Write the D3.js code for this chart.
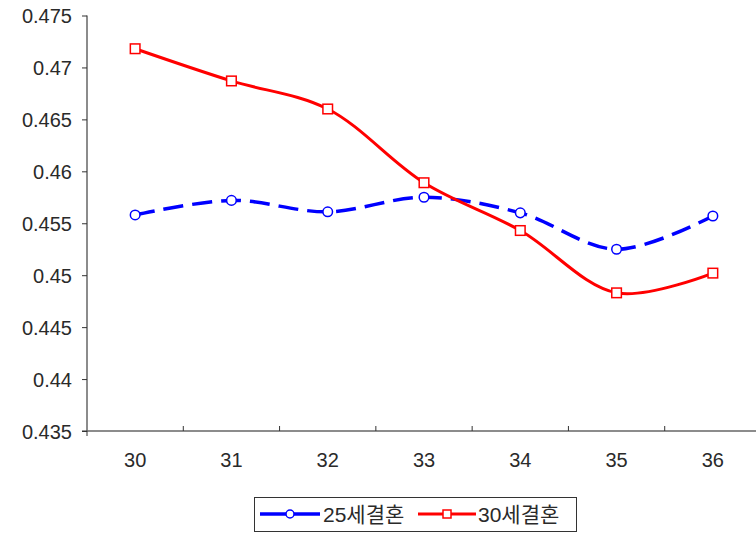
<!DOCTYPE html>
<html><head><meta charset="utf-8">
<script src="https://cdn.jsdelivr.net/npm/d3@7"></script>
<style>body{margin:0;background:#fff}svg{display:block}</style>
</head><body>
<script>
const categories = ["30","31","32","33","34","35","36"];
const series25 = [0.4558, 0.4572, 0.4561, 0.4575, 0.4560, 0.4525, 0.4557];
const series30 = [0.4718, 0.4687, 0.4660, 0.4589, 0.4543, 0.4483, 0.4502];
const yTicks = [0.435, 0.44, 0.445, 0.45, 0.455, 0.46, 0.465, 0.47, 0.475];
const seriesNames = ["25세결혼", "30세결혼"];

const W = 756, H = 533;
const font = "'Liberation Sans', Arial, 'Noto Sans CJK KR', sans-serif";
const svg = d3.select("body").append("svg").attr("width", W).attr("height", H);

const x = d3.scaleBand().domain(categories).range([87, 761]);
const y = d3.scaleLinear().domain([0.435, 0.475]).range([431, 15.5]);

// y axis
const ya = svg.append("g").attr("transform", "translate(87,0)")
  .call(d3.axisLeft(y).tickValues(yTicks).tickSize(5).tickPadding(10).tickFormat(d => d3.format("")(+d.toFixed(3))));
ya.select(".domain").attr("stroke", "#666").attr("stroke-width", 1.5).attr("d", "M0,15.5V431");
ya.selectAll(".tick line").attr("stroke", "#333");
ya.selectAll("text").attr("font-family", font).attr("font-size", 20).attr("fill", "#2a2a2a").attr("dy", "0.36em");

// x axis
const xa = svg.append("g").attr("transform", "translate(0,431)")
  .call(d3.axisBottom(x).tickSize(0).tickPadding(22));
xa.select(".domain").attr("stroke", "#666").attr("stroke-width", 1.5).attr("d", "M87,0H761");
xa.selectAll("text").attr("font-family", font).attr("font-size", 20).attr("fill", "#2a2a2a");
svg.append("g").selectAll("line").data(categories.slice(1)).join("line")
  .attr("x1", d => x(d)).attr("x2", d => x(d)).attr("y1", 431).attr("y2", 426)
  .attr("stroke", "#333");
svg.append("line").attr("x1", 87).attr("x2", 87).attr("y1", 431).attr("y2", 436).attr("stroke", "#333");
svg.append("line").attr("x1", 82).attr("x2", 87).attr("y1", 431).attr("y2", 431).attr("stroke", "#333");

const cx = d => x(d) + x.bandwidth() / 2;
const line = d3.line().x((d, i) => cx(categories[i])).y(d => y(d)).curve(d3.curveCatmullRom.alpha(0.5));

svg.append("path").datum(series25).attr("d", line).attr("fill", "none")
  .attr("stroke", "#0000ff").attr("stroke-width", 3.5).attr("stroke-dasharray", "20,9");
svg.append("path").datum(series30).attr("d", line).attr("fill", "none")
  .attr("stroke", "#ff0000").attr("stroke-width", 3);

svg.append("g").selectAll("circle").data(series25).join("circle")
  .attr("cx", (d, i) => cx(categories[i])).attr("cy", d => y(d)).attr("r", 4.8)
  .attr("fill", "#fff").attr("stroke", "#0000ff").attr("stroke-width", 1.5);
svg.append("g").selectAll("rect").data(series30).join("rect")
  .attr("x", (d, i) => cx(categories[i]) - 4.8).attr("y", d => y(d) - 4.8)
  .attr("width", 9.6).attr("height", 9.6)
  .attr("fill", "#fff").attr("stroke", "#ff0000").attr("stroke-width", 1.5);

// legend
const lg = svg.append("g");
lg.append("rect").attr("x", 254.5).attr("y", 497.5).attr("width", 322).attr("height", 34)
  .attr("fill", "#fff").attr("stroke", "#333").attr("stroke-width", 1);
const ly = 514;
lg.append("line").attr("x1", 260).attr("x2", 320).attr("y1", ly).attr("y2", ly).attr("stroke", "#0000ff").attr("stroke-width", 3.5);
lg.append("circle").attr("cx", 290).attr("cy", ly).attr("r", 4).attr("fill", "#fff").attr("stroke", "#0000ff").attr("stroke-width", 1.5);
lg.append("text").attr("x", 323).attr("y", ly).attr("dy", "0.36em").text(seriesNames[0])
  .attr("font-family", font).attr("font-size", 21).attr("fill", "#2a2a2a");
lg.append("line").attr("x1", 418).attr("x2", 476).attr("y1", ly).attr("y2", ly).attr("stroke", "#ff0000").attr("stroke-width", 3);
lg.append("rect").attr("x", 443).attr("y", ly - 4).attr("width", 8).attr("height", 8).attr("fill", "#fff").attr("stroke", "#ff0000").attr("stroke-width", 1.5);
lg.append("text").attr("x", 478).attr("y", ly).attr("dy", "0.36em").text(seriesNames[1])
  .attr("font-family", font).attr("font-size", 21).attr("fill", "#2a2a2a");
</script>
</body></html>
